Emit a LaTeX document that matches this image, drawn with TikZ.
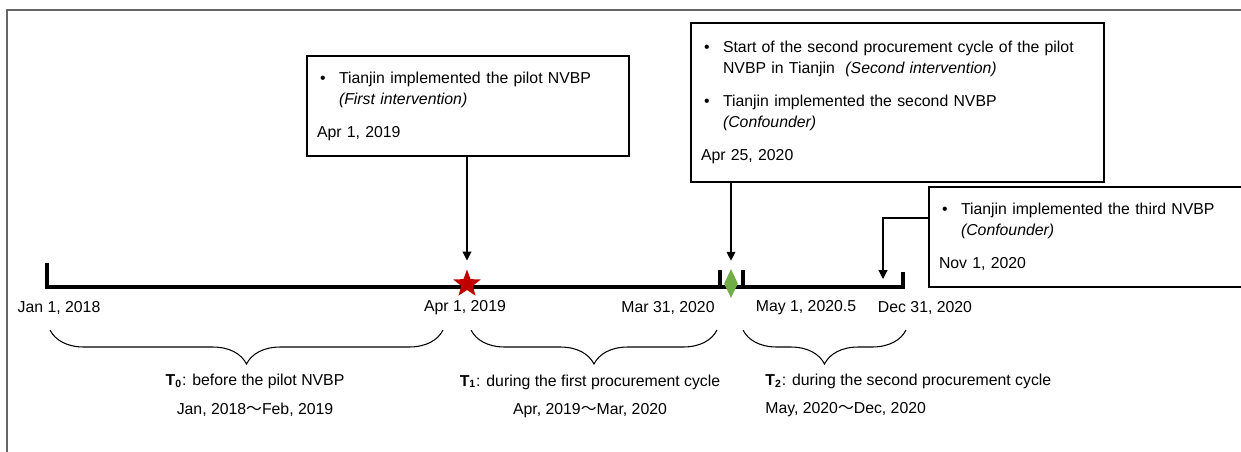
\documentclass[tikz,border=0pt]{standalone}
\usepackage{fontspec}
\setmainfont{Liberation Sans}
\newfontfamily\cjk{Noto Sans CJK SC}
\usetikzlibrary{positioning, arrows.meta, shapes, decorations.pathreplacing}

\definecolor{starred}{HTML}{C00000}
\definecolor{leafgreen}{HTML}{70AD47}
\newcommand{\wave}{{\cjk ～}}

\begin{document}
\begin{tikzpicture}[
        x=0.02cm, y=-0.02cm,   % one unit = one pixel of the figure
        every node/.style={font=\fontsize{9}{12}\selectfont},
        eventbox/.style={draw, line width=0.7pt, inner xsep=0.2cm, inner ysep=0pt, align=left},
        arrow/.style={draw, line width=0.6pt, -{Triangle[width=5pt,length=5pt]}},
        axis/.style={line width=1.8pt},
        brace/.style={decorate, line width=0.6pt, decoration={brace, mirror, amplitude=0.68cm}}
    ]
    \useasboundingbox (0,0) rectangle (1241,451);
    \clip (0,0) rectangle (1241,451);

    % Frame
    \draw[black!60, line width=0.8pt] (7,460) -- (7,10) -- (1250,10);

    % Timeline
    \draw[axis] (47,263) -- (47,287) -- (903,287) -- (903,272);
    \draw[axis] (720,270) -- (720,287);
    \draw[axis] (743,270) -- (743,287);

    % Markers
    \node (star) [star, star points=5, star point ratio=2.4, fill=starred, inner sep=0pt, minimum size=0.58cm] at (467,284) {};
    \node (dia) [diamond, fill=leafgreen, inner sep=0pt, minimum width=0.28cm, minimum height=0.58cm] at (731,283.5) {};
    \coordinate (nov) at (883,279);

    % Event boxes
    \node (box1) [eventbox, text width=6.04cm, minimum height=2cm] at (468,106) {%
        \begin{tabular}{@{}p{0.44cm}@{}l@{}}
        \hspace{0.06cm}\textbullet & Tianjin implemented\hspace{3.2pt}the pilot NVBP\\
         & \textit{(First intervention)}\\[6.8pt]
        \multicolumn{2}{@{}l@{}}{Apr 1, 2019}
        \end{tabular}};
    \node (box2) [eventbox, text width=7.86cm, minimum height=3.18cm] at (897.5,102.5) {%
        \begin{tabular}{@{}p{0.44cm}@{}l@{}}
        \hspace{0.06cm}\textbullet & Start of the second procurement cycle of the pilot\\
         & NVBP in Tianjin\ \ \textit{(Second intervention)}\\[6.8pt]
        \hspace{0.06cm}\textbullet & Tianjin implemented the second NVBP\\
         & \textit{(Confounder)}\\[6.8pt]
        \multicolumn{2}{@{}l@{}}{Apr 25, 2020}
        \end{tabular}};
    \node (box3) [eventbox, text width=6.2cm, minimum height=2cm] at (1094,237) {%
        \begin{tabular}{@{}p{0.44cm}@{}l@{}}
        \hspace{0.06cm}\textbullet & Tianjin implemented the third NVBP\\
         & \textit{(Confounder)}\\[6.8pt]
        \multicolumn{2}{@{}l@{}}{Nov 1, 2020}
        \end{tabular}};

    % Arrows
    \draw[arrow, shorten >=0.16cm] (box1.south -| star.north) -- (star.north);
    \draw[arrow, shorten >=0.16cm] (box2.south -| dia.north) -- (dia.north);
    \draw[arrow] ([yshift=0.38cm]box3.west) -| (nov);

    % Dates on the timeline
    \node (d2018) at (59,308) {Jan 1, 2018};
    \node (dapr) at (465,308) {Apr 1, 2019};
    \node (dmar) at (668,308) {Mar 31, 2020};
    \node (dmay) at (806,308) {May 1, 2020.5};
    \node (ddec) at (925,308) {Dec 31, 2020};

    % Periods
    \draw[brace] (50,330) -- (443,330);
    \draw[brace] (471,330) -- (717,330);
    \draw[brace] (743,330) -- (906,330);

    \node (t0) at (255,381) {\textbf{T\textsubscript{0}}: before the pilot NVBP};
    \node (p0) at (255,410) {Jan, 2018\wave Feb, 2019};
    \node (t1) at (590,382) {\textbf{T\textsubscript{1}}: during the first procurement cycle};
    \node (p1) at (590,411) {Apr, 2019\wave Mar, 2020};
    \node (t2) [anchor=west, inner xsep=0pt] at (765,381) {\textbf{T\textsubscript{2}}: during the second procurement cycle};
    \node (p2) [anchor=west, inner xsep=0pt] at (765,410) {May, 2020\wave Dec, 2020};

\end{tikzpicture}
\end{document}
